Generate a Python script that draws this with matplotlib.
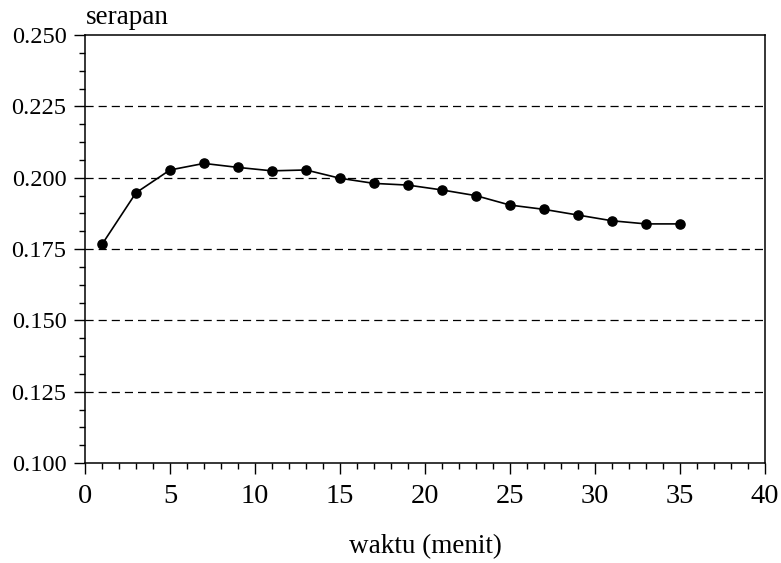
import matplotlib
matplotlib.use("Agg")
import matplotlib.pyplot as plt
from matplotlib.ticker import MultipleLocator, FormatStrFormatter

waktu = [1, 3, 5, 7, 9, 11, 13, 15, 17, 19, 21, 23, 25, 27, 29, 31, 33, 35]
serapan = [0.1766, 0.1947, 0.2027, 0.2050, 0.2036, 0.2024, 0.2027, 0.1998,
           0.1980, 0.1974, 0.1957, 0.1937, 0.1904, 0.1889, 0.1869, 0.1849,
           0.1838, 0.1838]

plt.rcParams['font.family'] = ['Liberation Serif', 'DejaVu Serif']
fig = plt.figure(figsize=(7.81, 5.63), dpi=100)
ax = fig.add_axes([0.1088, 0.1776, 0.8707, 0.7602])

ax.plot(waktu, serapan, color='black', lw=1.2, marker='o', ms=6.6, zorder=3)

ax.set_xlim(0, 40)
ax.set_ylim(0.100, 0.250)
ax.xaxis.set_major_locator(MultipleLocator(5))
ax.xaxis.set_minor_locator(MultipleLocator(1))
ax.yaxis.set_major_locator(MultipleLocator(0.025))
ax.yaxis.set_minor_locator(MultipleLocator(0.00625))
ax.yaxis.set_major_formatter(FormatStrFormatter('%.3f'))

ax.tick_params(axis='both', which='major', direction='out', length=7.8, width=1,
               color='black')
ax.tick_params(axis='both', which='minor', direction='out', length=4.3, width=1)
ax.tick_params(axis='x', which='major', pad=7.5, labelsize=20.5)
ax.tick_params(axis='y', which='major', pad=5.5, labelsize=17.6)

for yv in [0.125, 0.150, 0.175, 0.200, 0.225]:
    ax.axhline(yv, color='black', lw=0.9, ls=(0, (6.5, 4)), zorder=1)

for s in ax.spines.values():
    s.set_linewidth(1.1)

fig.text(0.1101, 0.958, 'serapan', fontsize=19.5, ha='left', va='baseline')
fig.text(0.5442, 0.0178, 'waktu (menit)', fontsize=19.5, ha='center', va='baseline')

fig.savefig('out.png', dpi=100)
